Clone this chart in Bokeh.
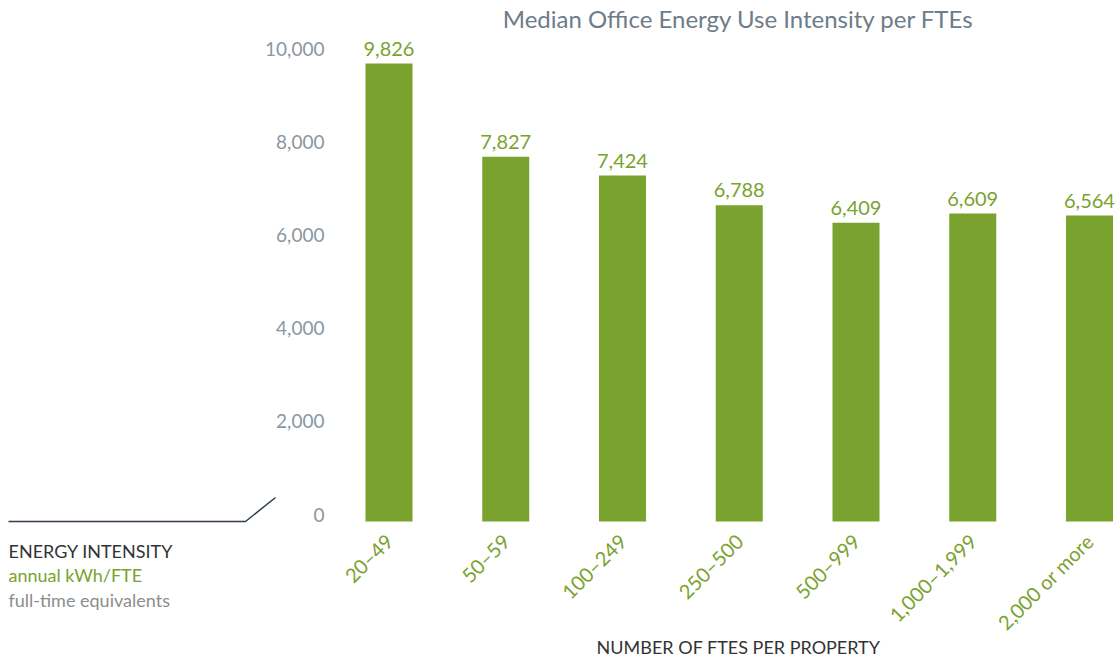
import math
from bokeh.plotting import figure
from bokeh.models import (Range1d, LinearAxis, FixedTicker, NumeralTickFormatter,
                          ColumnDataSource, LabelSet, Label, PolyAnnotation)
from bokeh.core.properties import value
from bokeh.embed import file_html
from bokeh.resources import INLINE

# ---- data ----
categories = ["20–49", "50–59", "100–249", "250–500", "500–999", "1,000–1,999", "2,000 or more"]
eui_per_fte = [9826, 7827, 7424, 6788, 6409, 6609, 6564]
y_ticks = [0, 2000, 4000, 6000, 8000, 10000]
title_text = "Median Office Energy Use Intensity per FTEs"
x_title = "NUMBER OF FTES PER PROPERTY"
y_title_lines = ["ENERGY INTENSITY", "annual kWh/FTE", "full-time equivalents"]
y_title_colors = ["#333333", "#7AA22F", "#8C8C8C"]

GREEN = "#7AA22F"
TICK_GRAY = "#8A97A2"
FONT = "Lato"

positions = list(range(len(categories)))
src = ColumnDataSource(dict(x=positions, top=eui_per_fte,
                            label=[f"{v:,}" for v in eui_per_fte]))

# ---- layout (pixels) ----
W, H = 1118, 658
BASE_Y = 521             # page row of the zero line
PX_PER_UNIT = 0.0466     # vertical pixels per kWh/FTE
PX_PER_CAT = 116.75      # horizontal pixels per category
FIRST_X = 388.5          # page column of the first category
AXIS_X = 340             # page column where the value axis sits
CENTER_X = 738           # page column of the chart's centre line

x_start = -FIRST_X / PX_PER_CAT
x_end = x_start + W / PX_PER_CAT
y_end = BASE_Y / PX_PER_UNIT
y_start = -(H - BASE_Y) / PX_PER_UNIT
LABEL_SHIFT = 7 / PX_PER_UNIT   # y tick labels sit slightly above their value

p = figure(frame_width=W, frame_height=H,
           x_range=Range1d(x_start, x_end), y_range=Range1d(y_start, y_end),
           y_axis_location=None, toolbar_location=None, output_backend="svg",
           min_border=0)
p.outline_line_color = None
p.grid.visible = False
p.background_fill_color = "white"
p.border_fill_color = "white"

p.vbar(x="x", top="top", width=47 / PX_PER_CAT, source=src, fill_color=GREEN, line_color=None)

labels = LabelSet(x="x", y="top", text="label", source=src, y_offset=8,
                  text_align="center", text_baseline="alphabetic",
                  text_font=value(FONT), text_font_size="20px", text_color=GREEN)
p.add_layout(labels)

# title
p.add_layout(Label(x=CENTER_X, y=H - 18, x_units="screen", y_units="screen",
                   text=title_text, text_color="#6E7C88", text_font=FONT,
                   text_font_size="24px", text_baseline="middle", text_align="center"))

# x axis, pinned to the zero line; bounds centre its title under the bars
xa = p.xaxis[0]
xa.fixed_location = 0
xa.bounds = ((2 * CENTER_X - W - FIRST_X) / PX_PER_CAT, x_end)
xa.ticker = FixedTicker(ticks=positions)
xa.major_label_overrides = {i: c for i, c in zip(positions, categories)}
xa.major_label_orientation = math.pi / 4
xa.major_label_text_font = FONT
xa.major_label_text_font_size = "20px"
xa.major_label_text_color = GREEN
xa.major_label_standoff = 10
xa.axis_line_color = None
xa.major_tick_line_color = None
xa.minor_tick_line_color = None
xa.axis_label = x_title
xa.axis_label_text_font = FONT
xa.axis_label_text_font_size = "18px"
xa.axis_label_text_font_style = "normal"
xa.axis_label_text_color = "#333333"
xa.axis_label_standoff = -10

# y axis (labels shifted up a few pixels, as in the original), pinned left of the bars
p.extra_y_ranges = {"lab": Range1d(y_start - LABEL_SHIFT, y_end - LABEL_SHIFT)}
ya = LinearAxis(y_range_name="lab", ticker=FixedTicker(ticks=y_ticks),
                formatter=NumeralTickFormatter(format="0,0"),
                fixed_location=(AXIS_X - FIRST_X) / PX_PER_CAT)
ya.axis_line_color = None
ya.major_tick_line_color = None
ya.minor_tick_line_color = None
ya.major_label_text_font = FONT
ya.major_label_text_font_size = "19px"
ya.major_label_text_color = TICK_GRAY
ya.major_label_standoff = 10
p.add_layout(ya, "left")

# caption at the lower left (screen units from the frame's lower-left corner)
for i, (txt, col) in enumerate(zip(y_title_lines, y_title_colors)):
    p.add_layout(Label(x=8, y=H - 550 - 24.5 * i, x_units="screen", y_units="screen",
                       text=txt, text_color=col, text_font=FONT,
                       text_font_size="18px", text_baseline="middle", text_align="left"))

# leader line
p.add_layout(PolyAnnotation(xs=[8, 245, 275, 245],
                            ys=[H - BASE_Y, H - BASE_Y, H - BASE_Y + 24, H - BASE_Y],
                            xs_units="screen", ys_units="screen",
                            fill_alpha=0, line_alpha=1.0,
                            line_color="#2F3E4A", line_width=1.5))

open("out.html", "w").write(file_html(p, INLINE))
